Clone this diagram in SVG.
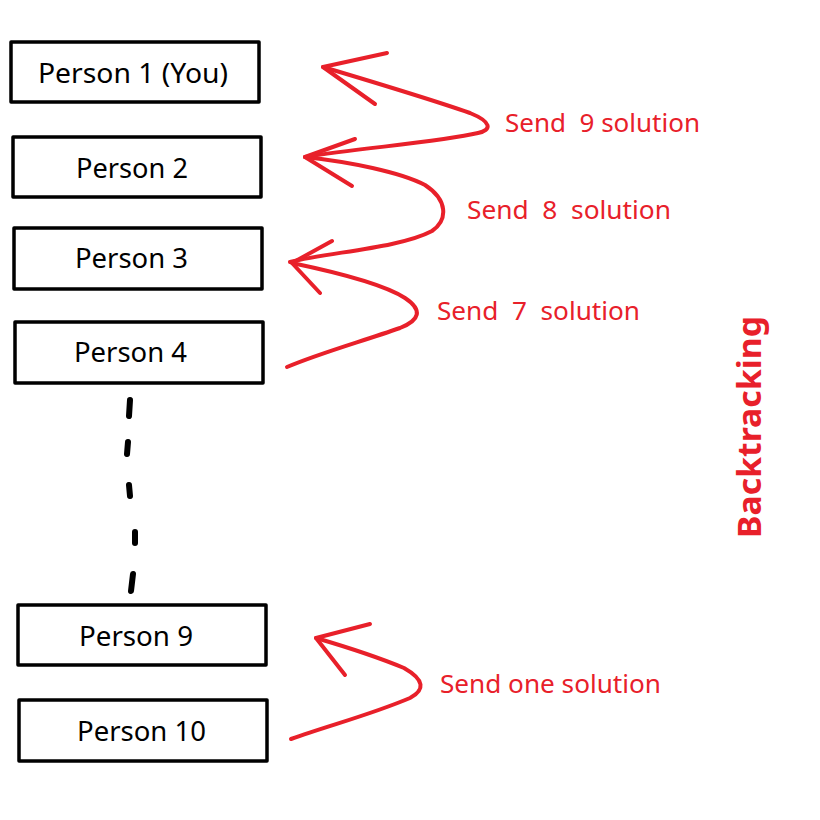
<svg xmlns="http://www.w3.org/2000/svg" width="820" height="820" viewBox="0 0 820 820">
<style>
.box{fill:#fff;stroke:#000;stroke-width:3.5;stroke-linejoin:round}
.lbl{font-family:"Noto Sans","Open Sans",sans-serif;font-size:28px;fill:#000}
.red{fill:none;stroke:#e8202a;stroke-width:4;stroke-linecap:round;stroke-linejoin:round}
.rt{font-family:"Noto Sans","Open Sans",sans-serif;font-size:26px;fill:#e8202a}
.dash{stroke:#000;stroke-width:6;stroke-linecap:round;fill:none}
</style>
<rect width="820" height="820" fill="#fff"/>
<g id="p1"><rect class="box" x="11" y="42" width="248" height="60"/><text class="lbl" x="38" y="83" textLength="190" lengthAdjust="spacingAndGlyphs">Person 1 (You)</text></g>
<g id="p2"><rect class="box" x="13" y="137" width="248" height="60"/><text class="lbl" x="76" y="178" textLength="112" lengthAdjust="spacingAndGlyphs">Person 2</text></g>
<g id="p3"><rect class="box" x="14" y="228" width="248" height="61"/><text class="lbl" x="75" y="268" textLength="113" lengthAdjust="spacingAndGlyphs">Person 3</text></g>
<g id="p4"><rect class="box" x="15" y="322" width="248" height="61"/><text class="lbl" x="74" y="362" textLength="113" lengthAdjust="spacingAndGlyphs">Person 4</text></g>
<g id="p9"><rect class="box" x="18" y="605" width="248" height="60"/><text class="lbl" x="79" y="646" textLength="114" lengthAdjust="spacingAndGlyphs">Person 9</text></g>
<g id="p10"><rect class="box" x="19" y="700" width="248" height="61"/><text class="lbl" x="77" y="741" textLength="129" lengthAdjust="spacingAndGlyphs">Person 10</text></g>
<g id="dots">
<path class="dash" d="M130,400 L129,416"/>
<path class="dash" d="M128,442 L127,454"/>
<path class="dash" d="M129,485 L130,496"/>
<path class="dash" d="M135,532 L135,543"/>
<path class="dash" d="M133,574 L131,591"/>
</g>
<g id="connectors">
<path class="red" d="M323,67 C380,84 433,100 470,113 C492,122 492,130 478,133 C440,142 360,148 305,157"/>
<path class="red" d="M387,53 L323,67 L375,104"/>
<path class="red" d="M305,157 C350,162 400,172 425,185 C448,200 448,220 432,231 C400,248 330,252 290,262"/>
<path class="red" d="M355,139 L305,157 L352,186"/>
<path class="red" d="M292,263 C340,273 385,285 405,298 C423,310 420,320 400,328 C360,342 320,353 287,367"/>
<path class="red" d="M332,241 L292,263 L320,293"/>
<path class="red" d="M316,638 C350,648 380,658 404,668 C425,680 425,690 410,698 C370,715 330,725 291,739"/>
<path class="red" d="M370,624 L316,638 L345,675"/>
</g>
<g id="labels">
<text class="rt" x="505" y="132" textLength="195" lengthAdjust="spacingAndGlyphs" xml:space="preserve">Send  9 solution</text>
<text class="rt" x="467" y="219" textLength="204" lengthAdjust="spacingAndGlyphs" xml:space="preserve">Send  8  solution</text>
<text class="rt" x="437" y="320" textLength="203" lengthAdjust="spacingAndGlyphs" xml:space="preserve">Send  7  solution</text>
<text class="rt" x="440" y="693" textLength="221" lengthAdjust="spacingAndGlyphs">Send one solution</text>
<text x="761" y="538" transform="rotate(-90 761 538)" font-family="'Noto Sans','Open Sans',sans-serif" font-weight="bold" font-size="32" fill="#e8202a" textLength="222" lengthAdjust="spacingAndGlyphs">Backtracking</text>
</g>
</svg>
